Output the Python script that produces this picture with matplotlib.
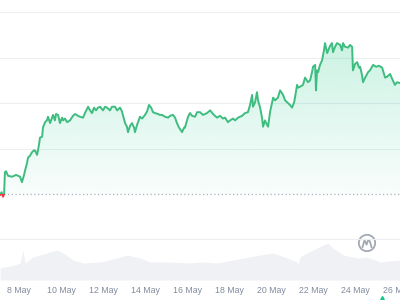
import numpy as np
import matplotlib.pyplot as plt
from matplotlib.patches import Rectangle, Circle

# price line (day of May, price)
days = [7.10, 7.17, 7.24, 7.29, 7.33, 7.38, 7.48, 7.67, 7.86, 8.05, 8.14, 8.24, 8.29, 8.38, 8.43,
        8.52, 8.62, 8.71, 8.76, 8.86, 8.95, 9.00, 9.10, 9.14, 9.24, 9.33, 9.38, 9.48, 9.57, 9.62,
        9.71, 9.76, 9.86, 9.95, 10.05, 10.10, 10.19, 10.29, 10.43, 10.57, 10.67, 10.81, 10.90, 11.05,
        11.14, 11.29, 11.38, 11.48, 11.57, 11.67, 11.76, 11.86, 12.00, 12.10, 12.19, 12.33, 12.43,
        12.57, 12.67, 12.81, 12.90, 13.05, 13.14, 13.19, 13.29, 13.38, 13.48, 13.52, 13.62, 13.76,
        13.86, 14.00, 14.10, 14.19, 14.29, 14.38, 14.48, 14.62, 14.71, 14.81, 14.95, 15.10, 15.19,
        15.33, 15.43, 15.52, 15.62, 15.71, 15.76, 15.86, 15.90, 16.00, 16.05, 16.14, 16.24, 16.38,
        16.48, 16.62, 16.76, 16.86, 16.95, 17.10, 17.24, 17.33, 17.43, 17.57, 17.71, 17.81, 17.95,
        18.05, 18.19, 18.29, 18.43, 18.52, 18.62, 18.76, 18.90, 19.00, 19.10, 19.14, 19.24, 19.33,
        19.38, 19.48, 19.57, 19.62, 19.71, 19.81, 19.86, 19.95, 20.05, 20.10, 20.19, 20.33, 20.43,
        20.52, 20.57, 20.67, 20.76, 20.90, 21.00, 21.10, 21.14, 21.24, 21.29, 21.38, 21.52, 21.62,
        21.76, 21.86, 21.95, 22.00, 22.10, 22.14, 22.19, 22.24, 22.33, 22.43, 22.52, 22.57, 22.67,
        22.81, 22.90, 22.95, 23.05, 23.14, 23.29, 23.38, 23.43, 23.52, 23.67, 23.76, 23.86, 23.90,
        24.00, 24.10, 24.19, 24.24, 24.33, 24.38, 24.48, 24.62, 24.71, 24.86, 25.00, 25.14, 25.29,
        25.43, 25.52, 25.67, 25.76, 25.90, 26.00, 26.14]
prices = [0.999, 1.002, 0.997, 1.000, 1.024, 1.025, 1.020, 1.019, 1.021, 1.019, 1.013, 1.021, 1.026,
          1.034, 1.040, 1.042, 1.046, 1.048, 1.048, 1.043, 1.054, 1.062, 1.063, 1.073, 1.079, 1.081,
          1.085, 1.078, 1.084, 1.087, 1.081, 1.088, 1.087, 1.078, 1.084, 1.081, 1.083, 1.079, 1.081,
          1.086, 1.088, 1.086, 1.085, 1.084, 1.089, 1.096, 1.092, 1.089, 1.095, 1.092, 1.095, 1.096,
          1.092, 1.096, 1.095, 1.092, 1.096, 1.096, 1.092, 1.095, 1.091, 1.078, 1.074, 1.068, 1.075,
          1.078, 1.073, 1.068, 1.076, 1.085, 1.083, 1.087, 1.091, 1.098, 1.095, 1.090, 1.089, 1.088,
          1.087, 1.087, 1.085, 1.084, 1.086, 1.087, 1.084, 1.078, 1.073, 1.070, 1.068, 1.073, 1.073,
          1.081, 1.085, 1.089, 1.086, 1.085, 1.090, 1.090, 1.087, 1.088, 1.089, 1.092, 1.088, 1.086,
          1.084, 1.086, 1.083, 1.084, 1.079, 1.081, 1.083, 1.081, 1.084, 1.085, 1.086, 1.089, 1.090,
          1.098, 1.109, 1.096, 1.101, 1.112, 1.103, 1.095, 1.084, 1.074, 1.081, 1.076, 1.074, 1.090,
          1.101, 1.106, 1.103, 1.106, 1.114, 1.111, 1.109, 1.103, 1.101, 1.098, 1.095, 1.101, 1.106,
          1.120, 1.117, 1.118, 1.120, 1.128, 1.123, 1.125, 1.134, 1.140, 1.142, 1.114, 1.136, 1.134,
          1.142, 1.147, 1.158, 1.166, 1.155, 1.163, 1.166, 1.156, 1.162, 1.166, 1.164, 1.158, 1.166,
          1.162, 1.161, 1.164, 1.162, 1.136, 1.143, 1.145, 1.139, 1.140, 1.131, 1.123, 1.128, 1.134,
          1.136, 1.142, 1.140, 1.141, 1.139, 1.128, 1.129, 1.132, 1.127, 1.120, 1.123, 1.122]
open_price = 1.0

# volume area at the bottom
vol_days = [7.10, 7.81, 8.05, 8.14, 8.19, 8.29, 8.67, 9.33, 9.81, 10.10, 10.57, 11.05, 11.86, 12.67,
            13.14, 13.76, 14.24, 15.05, 16.00, 16.62, 17.43, 18.19, 19.48, 20.10, 20.76, 21.24,
            21.29, 21.38, 22.00, 22.48, 22.71, 22.95, 23.43, 24.10, 24.57, 25.19, 26.14]
volumes = [6.0, 7.5, 8.5, 12.5, 15.0, 8.5, 11.5, 13.5, 15.0, 13.5, 10.0, 8.5, 9.0, 11.0, 12.5, 11.0,
           9.0, 9.0, 8.5, 9.0, 8.5, 10.0, 12.5, 13.5, 11.0, 9.0, 8.0, 11.5, 15.0, 17.5, 18.5, 16.0,
           12.5, 11.0, 11.5, 9.0, 10.0]

tick_days = [8, 10, 12, 14, 16, 18, 20, 22, 24, 26]
tick_labels = [f"{d} May" for d in tick_days]

green = "#3fbc80"
red = "#ea3943"
x0, x1 = 7.095, 26.14

fig = plt.figure(figsize=(4, 3), dpi=100)
ax = fig.add_axes([0, 18 / 300, 1, 282 / 300])
ax2 = ax.twinx()
ax.set_zorder(2)
ax.patch.set_visible(False)

# volume
ax2.fill_between(vol_days, volumes, 0, color="#f0f1f4", lw=0)
ax2.set_ylim(-1, 140)
ax2.set_yticks([])

# grid
for g in [0.95, 1.05, 1.10, 1.15, 1.20]:
    ax.axhline(g, color="#eceef1", lw=0.8, zorder=0)
ax.axhline(open_price, color="#a9b0bd", lw=0.9, ls=(0, (1, 2)), zorder=1)

# gradient fill between line and open price
poly = ax.fill_between(days, prices, open_price, color="none", lw=0)
grad = np.zeros((256, 1, 4))
grad[:, 0, 0] = 22 / 255
grad[:, 0, 1] = 199 / 255
grad[:, 0, 2] = 132 / 255
grad[:, 0, 3] = np.linspace(0.03, 0.22, 256)
im = ax.imshow(grad, extent=[x0, x1, open_price, max(prices)], origin="lower",
               aspect="auto", zorder=1)
im.set_clip_path(poly.get_paths()[0], transform=ax.transData)

# line: green above open, red below
lg, = ax.plot(days, prices, color=green, lw=1.4, zorder=3)
lr, = ax.plot(days, prices, color=red, lw=1.4, zorder=3)
lg.set_clip_path(Rectangle((x0, open_price), x1 - x0, 1, transform=ax.transData))
lr.set_clip_path(Rectangle((x0, open_price - 1), x1 - x0, 1, transform=ax.transData))

ax.set_xlim(x0, x1)
ax.set_ylim(0.9032, 1.2134)
ax.set_yticks([])
ax.set_xticks(tick_days)
ax.set_xticklabels(tick_labels, fontsize=6.3, color="#808a9d", family="Liberation Sans")
ax.tick_params(axis="x", length=0, pad=3.2)
for a in (ax, ax2):
    for s in a.spines.values():
        s.set_visible(False)

# little green marker under the last label
ax.plot([25.30], [0.8845], marker="^", color="#16c784", ms=4.5, clip_on=False, zorder=5)

# watermark logo
lax = fig.add_axes([358 / 400, 1 - 252 / 300, 18 / 400, 18 / 300])
lax.set_xlim(-1.1, 1.1)
lax.set_ylim(-1.1, 1.1)
lax.add_patch(Circle((0, 0), 1, fill=False, ec="#a3a9b4", lw=1.3))
lax.plot([-0.55, -0.3, -0.05, 0.15, 0.35, 0.55], [-0.5, 0.35, -0.2, 0.4, 0.2, -0.5],
         color="#a3a9b4", lw=1.3)
lax.axis("off")

plt.savefig("out.png", dpi=100)
